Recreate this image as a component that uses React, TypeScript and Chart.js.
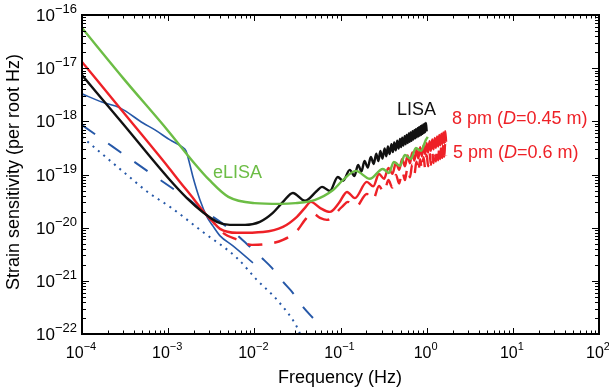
import React, { useEffect, useRef } from 'react';
import { Chart, registerables } from 'chart.js';

Chart.register(...registerables);

// Axis decades (tick labels are 10^exponent)
const xTickExponents = [-4, -3, -2, -1, 0, 1, 2];
const yTickExponents = [-22, -21, -20, -19, -18, -17, -16];

// [frequency (Hz), strain sensitivity (1/sqrt(Hz))]
const lisa: number[][] = [
  [1e-4, 7.4e-18], [3e-4, 8.9e-19], [1e-3, 8.6e-20], [1.65e-3, 3.6e-20], [2.53e-3, 1.95e-20],
  [3.68e-3, 1.29e-20], [5.2e-3, 1.13e-20], [7.8e-3, 1.13e-20], [1.16e-2, 1.29e-20], [1.64e-2, 1.9e-20],
  [2.15e-2, 3.05e-20], [0.028, 4.5e-20], [0.0387, 3.2e-20], [0.053, 4.9e-20], [0.061, 5.85e-20],
  [0.0754, 4.9e-20], [0.093, 9.0e-20], [0.107, 7.6e-20], [0.128, 1.22e-19], [0.145, 9.4e-20],
  [0.16, 1.52e-19], [0.175, 1.14e-19], [0.19, 1.8e-19], [0.207, 1.35e-19], [0.225, 2.14e-19],
  [0.243, 1.58e-19], [0.26, 2.47e-19], [0.275, 1.79e-19], [0.29, 2.76e-19], [0.307, 2.0e-19],
  [0.325, 3.09e-19], [0.34, 2.2e-19], [0.355, 3.37e-19], [0.372, 2.42e-19], [0.39, 3.7e-19],
  [0.405, 2.63e-19], [0.42, 4.0e-19], [0.437, 2.84e-19], [0.455, 4.32e-19], [0.472, 3.07e-19],
  [0.49, 4.65e-19], [0.505, 3.28e-19], [0.52, 4.94e-19], [0.537, 3.5e-19], [0.555, 5.27e-19],
  [0.57, 3.7e-19], [0.585, 5.56e-19], [0.602, 3.9e-19], [0.62, 5.9e-19], [0.635, 4.1e-19],
  [0.65, 6.2e-19], [0.667, 4.3e-19], [0.685, 6.5e-19], [0.702, 4.56e-19], [0.72, 6.84e-19],
  [0.735, 4.78e-19], [0.75, 7.1e-19], [0.767, 5.0e-19], [0.785, 7.46e-19], [0.8, 5.2e-19],
  [0.815, 7.74e-19], [0.832, 5.4e-19], [0.85, 8.1e-19], [0.865, 5.6e-19], [0.88, 8.36e-19],
  [0.897, 5.83e-19], [0.915, 8.7e-19], [0.932, 6.06e-19], [0.95, 9.0e-19], [0.965, 6.27e-19],
  [0.98, 9.3e-19], [1.0, 6.5e-19],
];

const elisa: number[][] = [
  [1e-4, 5.7e-17], [3e-4, 6.5e-18], [1e-3, 6.6e-19], [2e-3, 1.65e-19], [3e-3, 7.9e-20],
  [5e-3, 3.8e-20], [1e-2, 2.9e-20], [2e-2, 2.8e-20], [3e-2, 2.9e-20], [5e-2, 3.3e-20],
  [0.082, 5.1e-20], [0.107, 7.9e-20], [0.151, 1.17e-19], [0.219, 8.3e-20], [0.31, 1.27e-19],
  [0.364, 1.07e-19], [0.416, 1.73e-19], [0.489, 1.45e-19], [0.558, 2.33e-19], [0.656, 1.96e-19],
  [0.75, 3.16e-19], [0.857, 2.78e-19], [0.979, 4.47e-19], [1.03, 5.1e-19],
];

const pm8: number[][] = [
  [1e-4, 1.31e-17], [3e-4, 1.5e-18], [1e-3, 1.39e-19], [1.37e-3, 7.26e-20], [2e-3, 3.4e-20],
  [2.53e-3, 2.07e-20], [3.3e-3, 1.29e-20], [4e-3, 9.5e-21], [6.28e-3, 8.0e-21], [1.26e-2, 8.3e-21],
  [2.15e-2, 1.035e-20], [3.12e-2, 1.6e-20], [0.0387, 2.36e-20], [0.0454, 3.05e-20], [0.0577, 2.36e-20],
  [0.0754, 1.98e-20], [0.0958, 2.9e-20], [0.119, 4.7e-20], [0.147, 3.6e-20], [0.202, 7.26e-20],
  [0.24, 6.0e-20], [0.28, 1.02e-19], [0.32, 8.3e-20], [0.36, 1.33e-19], [0.4, 1.03e-19],
  [0.44, 1.65e-19], [0.48, 1.23e-19], [0.52, 1.96e-19], [0.56, 1.43e-19], [0.6, 2.29e-19],
  [0.64, 1.62e-19], [0.68, 2.6e-19], [0.72, 1.82e-19], [0.76, 2.92e-19], [0.8, 2.01e-19],
  [0.84, 3.25e-19], [0.88, 2.21e-19], [0.92, 3.57e-19], [0.96, 2.4e-19], [1.0, 3.9e-19],
  [1.04, 2.6e-19], [1.08, 4.22e-19], [1.12, 2.79e-19], [1.16, 4.55e-19], [1.2, 2.98e-19],
  [1.24, 4.88e-19], [1.28, 3.18e-19], [1.32, 5.2e-19], [1.36, 3.37e-19], [1.4, 5.52e-19],
  [1.44, 3.56e-19], [1.48, 5.88e-19], [1.52, 3.75e-19], [1.56, 6.2e-19], [1.6, 3.94e-19],
  [1.64, 6.55e-19], [1.68, 4.13e-19],
];

const pm5: number[][] = [
  [3.3e-3, 1.29e-20], [4.32e-3, 8.0e-21], [6.45e-3, 5.9e-21], [9.4e-3, 4.75e-21], [1.44e-2, 4.95e-21],
  [2.15e-2, 5.9e-21], [3.12e-2, 8.7e-21], [0.0387, 1.4e-20], [0.0466, 1.9e-20], [0.0577, 1.53e-20],
  [0.0696, 1.4e-20], [0.104, 2.46e-20], [0.122, 3.05e-20], [0.151, 2.46e-20], [0.202, 4.3e-20],
  [0.238, 3.3e-20], [0.28, 6.07e-20], [0.32, 4.57e-20], [0.36, 7.9e-20], [0.4, 5.67e-20],
  [0.44, 9.8e-20], [0.48, 6.77e-20], [0.52, 1.17e-19], [0.56, 7.87e-20], [0.6, 1.36e-19],
  [0.64, 8.9e-20], [0.68, 1.55e-19], [0.72, 1.0e-19], [0.76, 1.74e-19], [0.8, 1.1e-19],
  [0.84, 1.93e-19], [0.88, 1.22e-19], [0.92, 2.12e-19], [0.96, 1.32e-19], [1.0, 2.32e-19],
  [1.04, 1.43e-19], [1.08, 2.51e-19], [1.12, 1.53e-19], [1.16, 2.71e-19], [1.2, 1.64e-19],
  [1.24, 2.9e-19], [1.28, 1.75e-19], [1.32, 3.09e-19], [1.36, 1.85e-19], [1.4, 3.28e-19],
  [1.44, 1.96e-19], [1.48, 3.5e-19], [1.52, 2.06e-19], [1.56, 3.69e-19], [1.6, 2.17e-19],
  [1.64, 3.9e-19], [1.68, 2.27e-19],
];

const blueSolid: number[][] = [
  [1e-4, 3.3e-18], [1.7e-4, 2.3e-18], [2.76e-4, 1.79e-18], [5.1e-4, 9.3e-19], [7.03e-4, 6.9e-19],
  [1.05e-3, 4.47e-19], [1.45e-3, 3.3e-19], [1.61e-3, 2.78e-19], [1.79e-3, 1.51e-19], [1.94e-3, 9.0e-20],
  [2.34e-3, 3.33e-20], [2.82e-3, 1.6e-20], [3.3e-3, 1.08e-20], [4e-3, 7.0e-21], [5.65e-3, 4.55e-21],
  [9.64e-3, 2.18e-21],
];

const blueDashed: number[][] = [
  [1e-4, 8.5e-19], [1.2e-3, 5.1e-20], [1.65e-3, 3.63e-20], [2.47e-3, 2.16e-20], [3.3e-3, 1.6e-20],
  [4.32e-3, 1.18e-20], [6.45e-3, 7.0e-21], [8.9e-3, 4.36e-21], [1.22e-2, 2.7e-21], [1.6e-2, 1.75e-21],
  [2.15e-2, 9.6e-22], [2.81e-2, 5.9e-22], [3.66e-2, 3.24e-22], [4.79e-2, 2.0e-22],
];

const blueDotted: number[][] = [
  [1e-4, 5.1e-19], [3.33e-4, 9.8e-20], [5.98e-4, 4.5e-20], [1.05e-3, 2.46e-20], [2.53e-3, 8.3e-21],
  [6.28e-3, 2.7e-21], [1.07e-2, 1.04e-21], [1.83e-2, 4.4e-22], [3.12e-2, 1.36e-22], [3.6e-2, 8e-23],
];

const BLACK = '#111111';
const GREEN = '#6cbd45';
const RED = '#ee2127';
const BLUE = '#2658a8';
const FONT = '"Liberation Sans", Arial, Helvetica, sans-serif';

const toPoints = (s: number[][]) => s.map(([x, y]) => ({ x, y }));

function drawPow(ctx: CanvasRenderingContext2D, exp: number, x: number, baseY: number, supY: number,
  baseSize: number, supSize: number, align: 'right' | 'center') {
  const supText = exp < 0 ? '\u2212' + Math.abs(exp) : String(exp);
  ctx.font = `${baseSize}px ${FONT}`;
  const wb = ctx.measureText('10').width;
  ctx.font = `${supSize}px ${FONT}`;
  const ws = ctx.measureText(supText).width;
  const start = align === 'right' ? x - wb - ws : x - (wb + ws) / 2;
  ctx.textAlign = 'left';
  ctx.font = `${baseSize}px ${FONT}`;
  ctx.fillText('10', start, baseY);
  ctx.font = `${supSize}px ${FONT}`;
  ctx.fillText(supText, start + wb, supY);
}

function drawRich(ctx: CanvasRenderingContext2D, parts: [string, boolean][], x: number, y: number, size: number) {
  let cx = x;
  ctx.textAlign = 'left';
  for (const [t, it] of parts) {
    ctx.font = `${it ? 'italic ' : ''}${size}px ${FONT}`;
    ctx.fillText(t, cx, y);
    cx += ctx.measureText(t).width;
  }
}

const decorPlugin = {
  id: 'decor',
  afterDatasetsDraw(chart: any) {
    const { ctx, chartArea: a, scales } = chart;
    const xs = scales.x;
    const ys = scales.y;
    ctx.save();
    ctx.strokeStyle = '#000';
    ctx.lineWidth = 1;
    ctx.beginPath();
    for (let i = 0; i < xTickExponents.length; i++) {
      const e = xTickExponents[i];
      const px = Math.round(xs.getPixelForValue(Math.pow(10, e))) + 0.5;
      ctx.moveTo(px, a.bottom); ctx.lineTo(px, a.bottom - 6);
      ctx.moveTo(px, a.top); ctx.lineTo(px, a.top + 6);
      if (i < xTickExponents.length - 1) {
        for (let k = 2; k <= 9; k++) {
          const pm = Math.round(xs.getPixelForValue(k * Math.pow(10, e))) + 0.5;
          ctx.moveTo(pm, a.bottom); ctx.lineTo(pm, a.bottom - 3.5);
          ctx.moveTo(pm, a.top); ctx.lineTo(pm, a.top + 3.5);
        }
      }
    }
    for (let i = 0; i < yTickExponents.length; i++) {
      const e = yTickExponents[i];
      const py = Math.round(ys.getPixelForValue(Math.pow(10, e))) + 0.5;
      ctx.moveTo(a.left, py); ctx.lineTo(a.left + 7, py);
      ctx.moveTo(a.right, py); ctx.lineTo(a.right - 7, py);
      if (i < yTickExponents.length - 1) {
        for (let k = 2; k <= 9; k++) {
          const pm = Math.round(ys.getPixelForValue(k * Math.pow(10, e))) + 0.5;
          ctx.moveTo(a.left, pm); ctx.lineTo(a.left + 4, pm);
          ctx.moveTo(a.right, pm); ctx.lineTo(a.right - 4, pm);
        }
      }
    }
    ctx.stroke();
    ctx.lineWidth = 2;
    ctx.strokeRect(a.left, a.top, a.right - a.left, a.bottom - a.top);
    ctx.restore();
  },
  afterDraw(chart: any) {
    const { ctx, chartArea: a, scales } = chart;
    const xs = scales.x;
    const ys = scales.y;
    ctx.save();
    ctx.fillStyle = '#000';
    ctx.textBaseline = 'alphabetic';
    for (const e of yTickExponents) {
      const py = ys.getPixelForValue(Math.pow(10, e));
      drawPow(ctx, e, a.left - 5, py + 6, py - 2, 17, 13, 'right');
    }
    for (const e of xTickExponents) {
      const px = xs.getPixelForValue(Math.pow(10, e));
      drawPow(ctx, e, px - 1, a.bottom + 24, a.bottom + 16, 16, 11, 'center');
    }
    // axis titles
    ctx.font = `18px ${FONT}`;
    ctx.textAlign = 'center';
    ctx.fillText('Frequency (Hz)', (a.left + a.right) / 2 + 0.5 - 1, 383);
    ctx.save();
    ctx.translate(19, 172);
    ctx.rotate(-Math.PI / 2);
    ctx.fillText('Strain sensitivity (per root Hz)', 0, 0);
    ctx.restore();
    // curve labels
    ctx.textAlign = 'left';
    ctx.fillStyle = BLACK;
    ctx.font = `18px ${FONT}`;
    ctx.fillText('LISA', 397, 115);
    ctx.fillStyle = GREEN;
    ctx.fillText('eLISA', 213, 178);
    ctx.fillStyle = RED;
    drawRich(ctx, [['8 pm (', false], ['D', true], ['=0.45 m)', false]], 452, 124, 18);
    drawRich(ctx, [['5 pm (', false], ['D', true], ['=0.6 m)', false]], 453, 158, 18);
    ctx.restore();
  },
};

export default function App() {
  const canvasRef = useRef<HTMLCanvasElement | null>(null);

  useEffect(() => {
    if (!canvasRef.current) return;
    const common = { pointRadius: 0, showLine: true, fill: false, cubicInterpolationMode: 'monotone' as const };
    const chart = new Chart(canvasRef.current, {
      type: 'scatter',
      data: {
        datasets: [
          { ...common, label: 'eLISA', data: toPoints(elisa), borderColor: GREEN, borderWidth: 2.4, order: 1 },
          { ...common, label: 'LISA', data: toPoints(lisa), borderColor: BLACK, borderWidth: 2.4, order: 2 },
          { ...common, label: '8 pm', data: toPoints(pm8), borderColor: RED, borderWidth: 2.4, order: 3 },
          { ...common, label: '5 pm', data: toPoints(pm5), borderColor: RED, borderWidth: 2.4, borderDash: [15, 12], borderDashOffset: 12, order: 4 },
          { ...common, label: 'blue', data: toPoints(blueSolid), borderColor: BLUE, borderWidth: 1.6, order: 5 },
          { ...common, label: 'blue dashed', data: toPoints(blueDashed), borderColor: BLUE, borderWidth: 2, borderDash: [16, 16], order: 6 },
          { ...common, label: 'blue dotted', data: toPoints(blueDotted), borderColor: BLUE, borderWidth: 2, borderDash: [2, 5], order: 7 },
        ] as any,
      },
      options: {
        animation: false,
        responsive: false,
        devicePixelRatio: 1,
        layout: { padding: { left: 82, top: 15, right: 10, bottom: 56 } },
        scales: {
          x: { type: 'logarithmic', min: 1e-4, max: 1e2, display: false },
          y: { type: 'logarithmic', min: 1e-22, max: 1e-16, display: false },
        },
        plugins: { legend: { display: false }, tooltip: { enabled: false } },
        events: [],
      },
      plugins: [decorPlugin],
    });
    return () => chart.destroy();
  }, []);

  return (
    <div style={{ position: 'fixed', left: 0, top: 0, width: 609, height: 390, background: '#fff' }}>
      <canvas ref={canvasRef} width={609} height={390} style={{ display: 'block' }} />
    </div>
  );
}
